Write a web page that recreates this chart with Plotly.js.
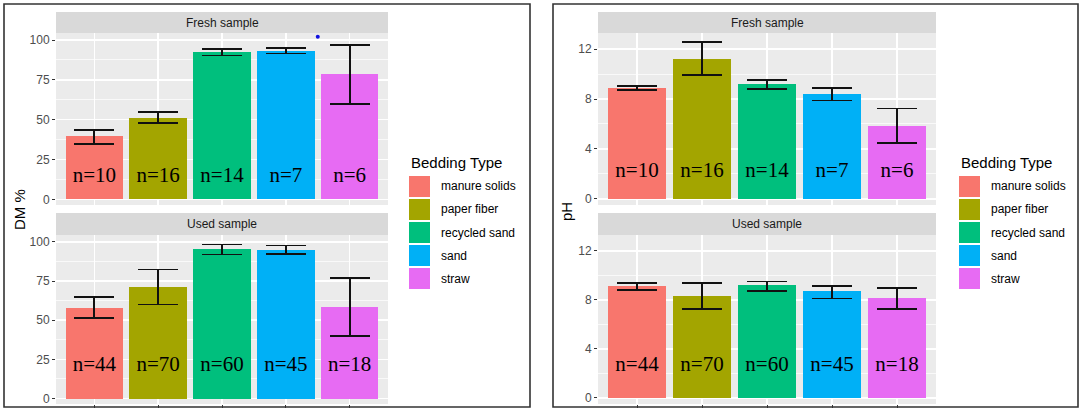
<!DOCTYPE html>
<html>
<head>
<meta charset="utf-8">
<script src="https://cdn.plot.ly/plotly-3.0.1.min.js"></script>
<style>html,body{margin:0;padding:0;background:#fff;}#chart{width:1084px;height:413px;}</style>
</head>
<body>
<div id="chart"></div>
<script>
// ---- data ----
const categories = ["manure solids", "paper fiber", "recycled sand", "sand", "straw"];
const colors = ["#F8766D", "#A3A500", "#00BF7D", "#00B0F6", "#E76BF3"];

const dmFreshMean  = [39.5, 51.2, 92.5, 93.2, 78.5];
const dmFreshUpper = [43.8, 54.7, 94.2, 95.0, 96.8];
const dmFreshLower = [34.8, 47.8, 90.3, 91.5, 59.7];
const dmFreshN     = [10, 16, 14, 7, 6];

const dmUsedMean   = [58.1, 71.2, 95.7, 95.1, 58.5];
const dmUsedUpper  = [64.8, 82.4, 98.3, 97.7, 76.9];
const dmUsedLower  = [51.3, 60.0, 92.0, 92.4, 39.8];
const dmUsedN      = [44, 70, 60, 45, 18];

const phFreshMean  = [8.89, 11.22, 9.21, 8.37, 5.85];
const phFreshUpper = [9.02, 12.56, 9.53, 8.86, 7.25];
const phFreshLower = [8.70, 9.90, 8.78, 7.89, 4.46];
const phFreshN     = [10, 16, 14, 7, 6];

const phUsedMean   = [9.11, 8.30, 9.19, 8.76, 8.14];
const phUsedUpper  = [9.38, 9.35, 9.51, 9.16, 9.00];
const phUsedLower  = [8.79, 7.23, 8.76, 8.12, 7.23];
const phUsedN      = [44, 70, 60, 45, 18];

// stray point visible in the DM fresh panel
const dmFreshDotX = [4.5];
const dmFreshDotY = [102];

const labelY = {dmFresh: 14.5, dmUsed: 21, phFresh: 2.2, phUsed: 2.6};

// ---- helpers ----
const W = 1084, H = 413;
const px = v => v / W;
const py = v => 1 - v / H;
const xs = categories.map((_, i) => i + 1);

function barTrace(mean, upper, lower, xa, ya) {
  return {
    type: 'bar', x: xs, y: mean, xaxis: xa, yaxis: ya, width: 0.9,
    marker: {color: colors, line: {width: 0}},
    error_y: {
      type: 'data', symmetric: false,
      array: upper.map((u, i) => u - mean[i]),
      arrayminus: lower.map((l, i) => mean[i] - l),
      color: '#111', thickness: 1.8, width: 20
    },
    showlegend: false, hoverinfo: 'none'
  };
}
function textTrace(ns, yv, xa, ya) {
  return {
    type: 'scatter', mode: 'text', x: xs, y: ns.map(() => yv), xaxis: xa, yaxis: ya,
    text: ns.map(n => 'n=' + n), textposition: 'middle center',
    textfont: {family: 'Liberation Serif, Times New Roman, serif', size: 21, color: '#000'},
    showlegend: false, hoverinfo: 'none'
  };
}

const traces = [
  barTrace(dmFreshMean, dmFreshUpper, dmFreshLower, 'x', 'y'),
  textTrace(dmFreshN, labelY.dmFresh, 'x', 'y'),
  {type: 'scatter', mode: 'markers', x: dmFreshDotX, y: dmFreshDotY, xaxis: 'x', yaxis: 'y',
   marker: {color: '#1010E0', size: 4}, showlegend: false, hoverinfo: 'none'},
  barTrace(dmUsedMean, dmUsedUpper, dmUsedLower, 'x2', 'y2'),
  textTrace(dmUsedN, labelY.dmUsed, 'x2', 'y2'),
  barTrace(phFreshMean, phFreshUpper, phFreshLower, 'x3', 'y3'),
  textTrace(phFreshN, labelY.phFresh, 'x3', 'y3'),
  barTrace(phUsedMean, phUsedUpper, phUsedLower, 'x4', 'y4'),
  textTrace(phUsedN, labelY.phUsed, 'x4', 'y4')
];

const tickFont = {family: 'Liberation Sans, Arial, sans-serif', size: 12, color: '#4D4D4D'};

function xAxis(dom, anchor, ticks) {
  return {
    domain: dom, anchor: anchor, range: [0.4, 5.6], tickmode: 'array', tickvals: xs,
    showticklabels: false, ticks: ticks ? 'outside' : '', ticklen: 3, tickcolor: '#333', tickwidth: 1,
    showgrid: true, gridcolor: '#FFFFFF', gridwidth: 1.5, zeroline: false, showline: false, fixedrange: true
  };
}
function yAxis(dom, anchor, range, dtick) {
  return {
    domain: dom, anchor: anchor, range: range, tickmode: 'linear', tick0: 0, dtick: dtick,
    ticks: 'outside', ticklen: 3, tickcolor: '#333', tickwidth: 1, tickfont: tickFont,
    showgrid: true, gridcolor: '#FFFFFF', gridwidth: 1.5, zeroline: false, showline: false,
    minor: {tick0: 0, dtick: dtick / 2, showgrid: true, gridcolor: '#FFFFFF', gridwidth: 0.7, ticks: ''},
    fixedrange: true
  };
}

const leftX = [px(56), px(388)];
const rightX = [px(598), px(936)];
const topY = [py(205), py(33)];
const botY = [py(404), py(235)];

const shapes = [];
const annotations = [];

// panel borders
[[4, 530], [553, 1078]].forEach(([a, b]) => {
  shapes.push({type: 'rect', xref: 'paper', yref: 'paper', x0: px(a), x1: px(b), y0: py(407), y1: py(4),
    line: {color: '#333', width: 1.6}, fillcolor: 'rgba(0,0,0,0)', layer: 'above'});
});

// strips
function strip(xr, y0, y1, label) {
  shapes.push({type: 'rect', xref: 'paper', yref: 'paper', x0: xr[0], x1: xr[1], y0: py(y1), y1: py(y0),
    line: {width: 0}, fillcolor: '#D9D9D9', layer: 'below'});
  annotations.push({xref: 'paper', yref: 'paper', x: (xr[0] + xr[1]) / 2, y: py((y0 + y1) / 2),
    text: label, showarrow: false, xanchor: 'center', yanchor: 'middle',
    font: {family: 'Liberation Sans, Arial, sans-serif', size: 12, color: '#1A1A1A'}});
}
strip(leftX, 12, 33, 'Fresh sample');
strip(leftX, 213, 235, 'Used sample');
strip(rightX, 12, 33, 'Fresh sample');
strip(rightX, 213, 235, 'Used sample');

// y-axis titles
annotations.push({xref: 'paper', yref: 'paper', x: px(19), y: py(210), text: 'DM %', textangle: -90,
  showarrow: false, xanchor: 'center', yanchor: 'middle',
  font: {family: 'Liberation Sans, Arial, sans-serif', size: 15, color: '#000'}});
annotations.push({xref: 'paper', yref: 'paper', x: px(566), y: py(212), text: 'pH', textangle: -90,
  showarrow: false, xanchor: 'center', yanchor: 'middle',
  font: {family: 'Liberation Sans, Arial, sans-serif', size: 15, color: '#000'}});

// legends (ggplot-style large keys)
function legend(x0) {
  annotations.push({xref: 'paper', yref: 'paper', x: px(x0), y: py(162), text: 'Bedding Type',
    showarrow: false, xanchor: 'left', yanchor: 'middle',
    font: {family: 'Liberation Sans, Arial, sans-serif', size: 15, color: '#000'}});
  categories.forEach((c, i) => {
    const top = 176 + i * 23;
    shapes.push({type: 'rect', xref: 'paper', yref: 'paper', x0: px(x0), x1: px(x0 + 21),
      y0: py(top + 21), y1: py(top), line: {width: 0}, fillcolor: colors[i]});
    annotations.push({xref: 'paper', yref: 'paper', x: px(x0 + 30), y: py(top + 10.5), text: c,
      showarrow: false, xanchor: 'left', yanchor: 'middle',
      font: {family: 'Liberation Sans, Arial, sans-serif', size: 12, color: '#000'}});
  });
}
legend(409);
legend(959);

const layout = {
  width: W, height: H, margin: {l: 0, r: 0, t: 0, b: 0},
  paper_bgcolor: '#FFFFFF', plot_bgcolor: '#EBEBEB',
  showlegend: false, bargap: 0,
  xaxis: xAxis(leftX, 'y', false),
  yaxis: yAxis(topY, 'x', [-3.5, 104.4], 25),
  xaxis2: xAxis(leftX, 'y2', true),
  yaxis2: yAxis(botY, 'x2', [-3.5, 104.4], 25),
  xaxis3: xAxis(rightX, 'y3', false),
  yaxis3: yAxis(topY, 'x3', [-0.5, 13.3], 4),
  xaxis4: xAxis(rightX, 'y4', true),
  yaxis4: yAxis(botY, 'x4', [-0.5, 13.3], 4),
  shapes: shapes, annotations: annotations
};

Plotly.newPlot('chart', traces, layout, {staticPlot: true, displayModeBar: false});
</script>
</body>
</html>
